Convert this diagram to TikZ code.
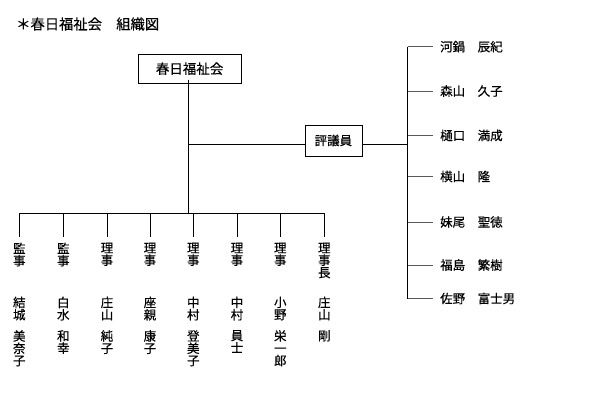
\documentclass[tikz,border=0pt]{standalone}
\usepackage{fontspec}
\setmainfont{Noto Sans CJK JP}[FakeBold=0.35]
\begin{document}
\begin{tikzpicture}[x=1pt,y=-1pt,
  txt/.style={font=\fontsize{12.5}{12.3}\selectfont, inner sep=0pt},
  vtxt/.style={txt, align=center, anchor=north},
  rname/.style={txt, anchor=west},
  boxed/.style={draw, line width=0.8pt, inner sep=0pt},
  link/.style={draw, line width=0.8pt},
  branch/.style={draw=black!65, line width=0.8pt}]
\useasboundingbox (0,0) rectangle (595,408);

% title
\node[inner sep=0pt, anchor=west, font=\fontsize{14.3}{15}\selectfont] (title) at (16,24) {＊春日福祉会　組織図};

% top box
\node[boxed, minimum width=103pt, minimum height=29pt, font=\fontsize{13.5}{14}\selectfont] (org) at (189.6,68.7) {春日福祉会};

% council box
\node[boxed, minimum width=57pt, minimum height=31pt, txt] (council) at (333.4,140.5) {評議員};

% trunk
\coordinate (jc) at (188.3,144);
\coordinate (bar) at (188.3,213.3);
\draw[link] ([yshift=4pt]org.south -| jc) -- (bar);
\draw[link] (jc) -- (council.west |- jc);

% council members spine
\coordinate (sp0) at (407.7,144);
\draw[link] (council.east |- sp0) -- (sp0);
\coordinate (spT) at (407.7,46.7);
\coordinate (spB) at (407.7,298.5);
\draw[link] (spT) -- (spB);

\foreach \i/\y/\n in {1/46.7/河鍋　辰紀, 2/91/森山　久子, 3/135.5/樋口　満成, 4/176.5/横山　隆,
                     5/222/妹尾　聖徳, 6/265/福島　繁樹, 7/298.5/佐野　富士男}{
  \node[rname] (r\i) at (440,\y) {\n};
  \coordinate (s\i) at (407.7,\y);
  \draw[branch] (s\i) -- ([xshift=-7pt]r\i.west);
}

% bottom bar
\coordinate (bL) at (19.3,213.3);
\coordinate (bR) at (324.3,213.3);
\draw[link] (bL) -- (bR);

\foreach \i/\x/\role/\sur/\giv in {
  1/19.3/監\\事/結\\城/美\\奈\\子,
  2/63.3/監\\事/白\\水/和\\幸,
  3/107/理\\事/庄\\山/純\\子,
  4/150/理\\事/座\\親/康\\子,
  5/193.3/理\\事/中\\村/登\\美\\子,
  6/237/理\\事/中\\村/員\\士,
  7/280.3/理\\事/小\\野/栄\\一\\郎,
  8/324.3/理\\事\\長/庄\\山/剛}{
  \node[vtxt] (role\i) at (\x,242.5) {\role};
  \node[vtxt] (sur\i) at (\x,296.5) {\sur};
  \node[vtxt] (giv\i) at (\x,330) {\giv};
  \coordinate (d\i) at (\x,213.3);
  \draw[link] (d\i) -- ([yshift=6pt]role\i.north);
}
\end{tikzpicture}
\end{document}
